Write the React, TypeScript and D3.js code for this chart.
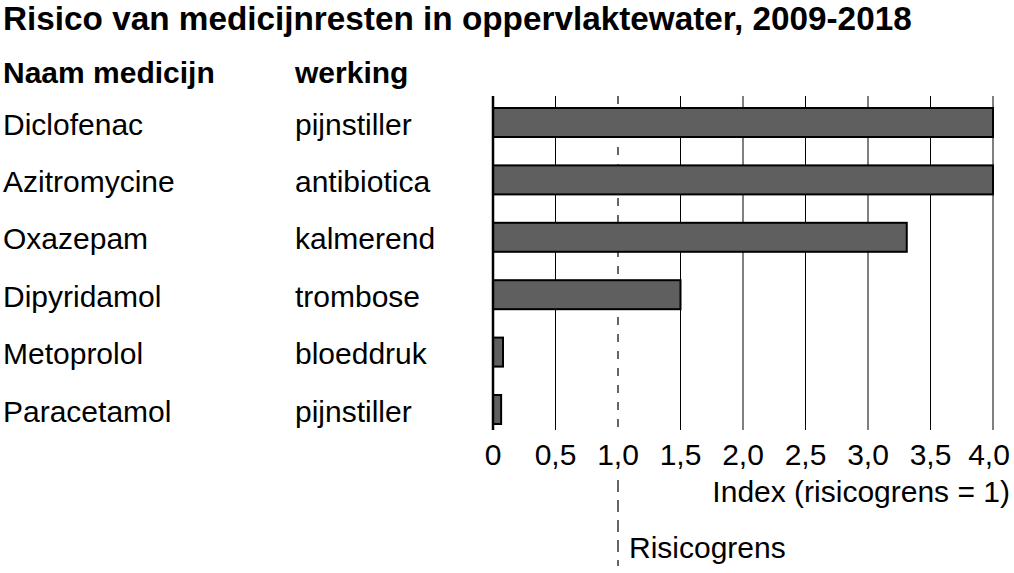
import React from "react";
import * as d3 from "d3";

const medicines = ["Diclofenac", "Azitromycine", "Oxazepam", "Dipyridamol", "Metoprolol", "Paracetamol"];
const effects = ["pijnstiller", "antibiotica", "kalmerend", "trombose", "bloeddruk", "pijnstiller"];
const indexValues = [4.0, 4.0, 3.31, 1.5, 0.08, 0.065];
const ticks = [0, 0.5, 1.0, 1.5, 2.0, 2.5, 3.0, 3.5, 4.0];
const tickLabels = ["0", "0,5", "1,0", "1,5", "2,0", "2,5", "3,0", "3,5", "4,0"];
const riskLimit = 1;

const title = "Risico van medicijnresten in oppervlaktewater, 2009-2018";
const headName = "Naam medicijn";
const headEffect = "werking";
const axisTitle = "Index (risicogrens = 1)";
const limitLabel = "Risicogrens";

const W = 1014;
const H = 573;
const FONT = "'Liberation Sans', Arial, Helvetica, sans-serif";

export default function App() {
  const x = d3.scaleLinear().domain([0, 4]).range([493, 993]);
  const y = d3.scalePoint<string>().domain(medicines).range([122.5, 409.5]);
  const barH = 29;
  const gridTop = 96;
  const gridBottom = 430;

  return (
    <svg
      width={W}
      height={H}
      style={{ position: "absolute", left: 0, top: 0, background: "#fff" }}
      fontFamily={FONT}
    >
      <rect x={0} y={0} width={W} height={H} fill="#fff" />
      <text x={3} y={30} fontSize={33.3} fontWeight="bold" fill="#000">{title}</text>
      <text x={3} y={83} fontSize={30} fontWeight="bold" fill="#000">{headName}</text>
      <text x={295} y={83} fontSize={30} fontWeight="bold" fill="#000">{headEffect}</text>

      {/* grid lines */}
      {ticks.filter((t) => t > 0 && t !== riskLimit).map((t) => (
        <line key={t} x1={x(t)} x2={x(t)} y1={gridTop} y2={gridBottom} stroke="#000" strokeWidth={1} />
      ))}
      {/* risk limit dashed */}
      <line x1={x(riskLimit)} x2={x(riskLimit)} y1={gridTop} y2={gridBottom} stroke="#000" strokeWidth={1.2} strokeDasharray="8,9" />
      <line x1={x(riskLimit)} x2={x(riskLimit)} y1={480} y2={566} stroke="#000" strokeWidth={1.2} strokeDasharray="12,8" />

      {/* bars */}
      {medicines.map((m, i) => (
        <rect
          key={m}
          x={x(0)}
          y={(y(m) as number) - barH / 2}
          width={x(indexValues[i]) - x(0)}
          height={barH}
          fill="#5f5f5f"
          stroke="#000"
          strokeWidth={2}
        />
      ))}

      {/* zero axis */}
      <line x1={x(0)} x2={x(0)} y1={gridTop} y2={gridBottom} stroke="#000" strokeWidth={2.5} />

      {/* row labels */}
      {medicines.map((m, i) => (
        <g key={"l" + i}>
          <text x={3} y={(y(m) as number) + 12} fontSize={30} fill="#000">{m}</text>
          <text x={295} y={(y(m) as number) + 12} fontSize={30} fill="#000">{effects[i]}</text>
        </g>
      ))}

      {/* tick labels */}
      {ticks.map((t, i) => (
        <text key={"t" + i} x={x(t) - (i === ticks.length - 1 ? 4 : 0)} y={465} fontSize={30} textAnchor="middle" fill="#000">
          {tickLabels[i]}
        </text>
      ))}
      <text x={1010} y={502} fontSize={30} textAnchor="end" fill="#000">{axisTitle}</text>
      <text x={629} y={558} fontSize={30} fill="#000">{limitLabel}</text>
    </svg>
  );
}
